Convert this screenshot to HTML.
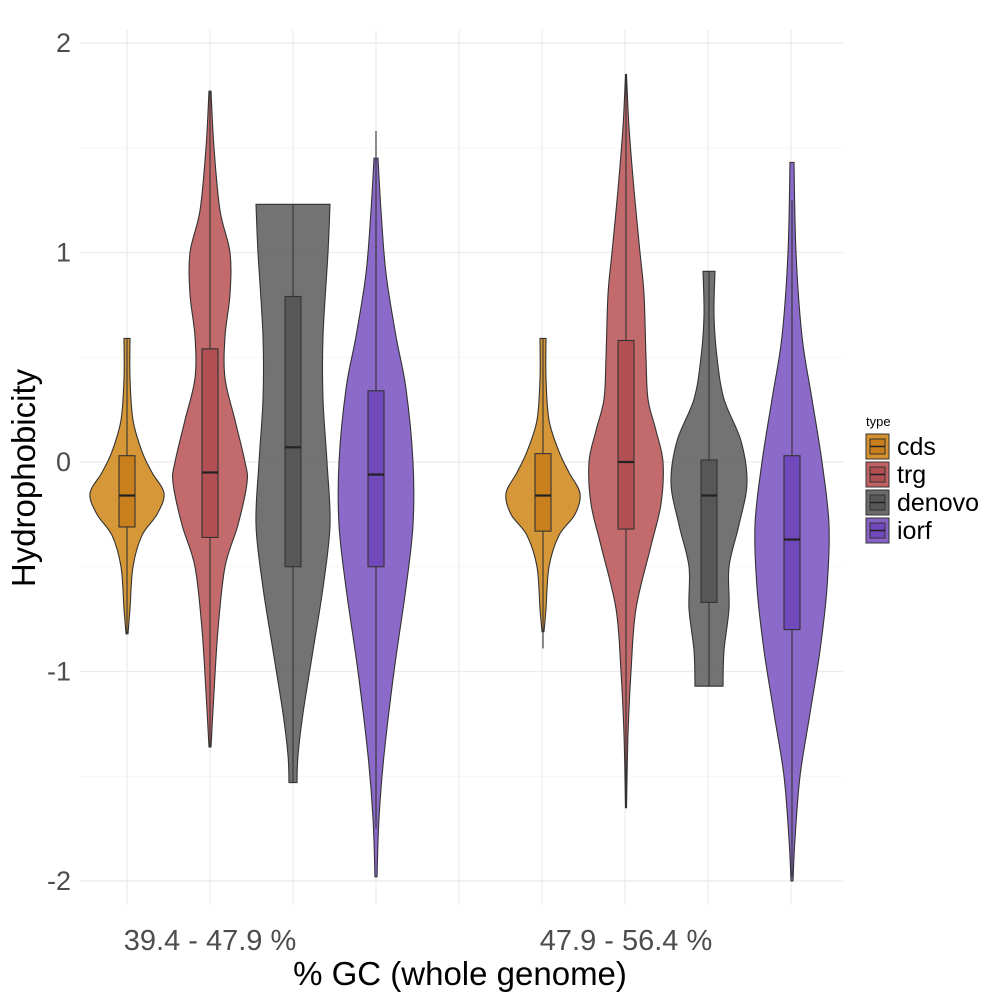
<!DOCTYPE html>
<html><head><meta charset="utf-8"><style>
body{margin:0;background:#fff;}
svg{display:block;font-family:"Liberation Sans",sans-serif;}
</style></head><body>
<svg id="chart" width="1000" height="1000"></svg>
<script>
const groups = ["39.4 - 47.9 %", "47.9 - 56.4 %"];
const types = ["cds", "trg", "denovo", "iorf"];
const colors = ["#d4912e", "#c06264", "#6b6b6b", "#8662c7"];
const boxColors = ["#c97f1c", "#b24f52", "#575757", "#7248bd"];
const yTicks = [2, 1, 0, -1, -2];
// violin profiles: [y value, relative half-width]
const profiles = [
 [[0.59,3],[0.4,3],[0.2,6],[0.05,15],[-0.05,25],[-0.15,37],[-0.25,30],[-0.35,15],[-0.5,6],[-0.7,3],[-0.82,1]],
 [[1.77,1],[1.5,4],[1.2,10],[1.0,20],[0.8,20],[0.6,15],[0.4,15],[0.2,25],[0.0,35],[-0.1,37],[-0.3,28],[-0.5,15],[-0.8,8],[-1.1,4],[-1.36,1]],
 [[1.23,37],[1.0,35],[0.6,30],[0.3,30],[0.0,34],[-0.3,37],[-0.6,30],[-0.9,20],[-1.2,10],[-1.4,5],[-1.53,4]],
 [[1.45,2],[1.2,5],[0.9,10],[0.6,20],[0.35,30],[0.0,37],[-0.3,37],[-0.6,30],[-1.0,18],[-1.4,8],[-1.7,3],[-1.98,1]],
 [[0.59,3],[0.4,3],[0.2,6],[0.05,16],[-0.05,26],[-0.15,37],[-0.25,32],[-0.35,16],[-0.5,6],[-0.7,3],[-0.81,1]],
 [[1.85,0.5],[1.6,3],[1.3,8],[1.0,14],[0.8,18],[0.5,20],[0.3,22],[0.15,30],[0.0,37],[-0.2,35],[-0.4,25],[-0.7,10],[-1.0,5],[-1.3,2],[-1.65,0.5]],
 [[0.91,6],[0.7,5],[0.5,8],[0.3,15],[0.1,32],[-0.1,38],[-0.3,30],[-0.5,20],[-0.7,20],[-0.9,15],[-1.07,14]],
 [[1.43,2],[1.0,4],[0.6,10],[0.3,20],[0.0,30],[-0.3,37],[-0.6,35],[-0.9,28],[-1.2,18],[-1.5,8],[-1.8,3],[-2.0,1]]
];
const q1 = [-0.31,-0.36,-0.5,-0.5,-0.33,-0.32,-0.67,-0.8];
const med = [-0.16,-0.05,0.07,-0.06,-0.16,0.0,-0.16,-0.37];
const q3 = [0.03,0.54,0.79,0.34,0.04,0.58,0.01,0.03];
const whiskLo = [-0.82,-1.36,-1.53,-1.75,-0.89,-1.65,-1.07,-1.98];
const whiskHi = [0.59,1.77,1.23,1.58,0.59,1.85,0.91,1.25];

const NS="http://www.w3.org/2000/svg";
const svg=document.getElementById('chart');
const y=v=>462-v*209.5;
const xPos=(g,t)=>127+g*416+t*83;
function mk(tag,attrs,parent){const e=document.createElementNS(NS,tag);for(const k in attrs)e.setAttribute(k,attrs[k]);(parent||svg).appendChild(e);return e;}

for(let v=-2;v<=2.001;v+=0.5){
 const l=mk('line',{x1:80,x2:843,y1:y(v),y2:y(v),stroke:Number.isInteger(v)?'#ebebeb':'#f3f3f3','stroke-width':Number.isInteger(v)?1.2:0.7});
 
 
}
for(let i=0;i<9;i++){
 const l=mk('line',{x1:127+i*83,x2:127+i*83,y1:30,y2:905,stroke:'#ebebeb','stroke-width':1.2});
 
 
}
yTicks.forEach(v=>{
 const t=mk('text',{x:71,y:y(v)+9,'text-anchor':'end','font-size':27,fill:'#4d4d4d'});
 t.textContent=v;
 
 
});
groups.forEach((g,i)=>{
 const t=mk('text',{x:210+i*416,y:950,'text-anchor':'middle','font-size':29,fill:'#4d4d4d'});
 t.textContent=g;
 
 
});

function smoothSide(pts){
 let d='';
 for(let i=0;i<pts.length-1;i++){
  const p0=pts[Math.max(0,i-1)],p1=pts[i],p2=pts[i+1],p3=pts[Math.min(pts.length-1,i+2)];
  const c1=[p1[0]+(p2[0]-p0[0])/6,p1[1]+(p2[1]-p0[1])/6];
  const c2=[p2[0]-(p3[0]-p1[0])/6,p2[1]-(p3[1]-p1[1])/6];
  d+=` C${c1[0]},${c1[1]} ${c2[0]},${c2[1]} ${p2[0]},${p2[1]}`;
 }
 return d;
}
for(let k=0;k<8;k++){
 const g=Math.floor(k/4),t=k%4,cx=xPos(g,t);
 const pr=profiles[k];
 const right=pr.map(p=>[cx+p[1],y(p[0])]);
 const left=pr.slice().reverse().map(p=>[cx-p[1],y(p[0])]);
 let d=`M${cx-pr[0][1]},${y(pr[0][0])} L${right[0][0]},${right[0][1]}`+smoothSide(right)+` L${left[0][0]},${left[0][1]}`+smoothSide(left)+'Z';
 const p=mk('path',{d,fill:colors[t],'fill-opacity':0.95,stroke:'#333','stroke-width':1.1});
 
 
 const w=mk('line',{x1:cx,x2:cx,y1:y(whiskHi[k]),y2:y(whiskLo[k]),stroke:'#333','stroke-width':1.1});
 
 
 const b=mk('rect',{x:cx-8,y:y(q3[k]),width:16,height:y(q1[k])-y(q3[k]),fill:boxColors[t],stroke:'#333','stroke-width':1.1});
 
 
 const m=mk('line',{x1:cx-8,x2:cx+8,y1:y(med[k]),y2:y(med[k]),stroke:'#222','stroke-width':2.2});
 
 
}
let at=mk('text',{x:460,y:985,'text-anchor':'middle','font-size':33,fill:'#000'});
at.textContent='% GC (whole genome)';


at=mk('text',{x:35,y:478,'text-anchor':'middle','font-size':33,fill:'#000',transform:'rotate(-90 35 478)'});
at.textContent='Hydrophobicity';


at=mk('text',{x:866,y:426,'font-size':13,fill:'#000'});
at.textContent='type';


types.forEach((tp,i)=>{
 const yy=434+i*28;
 const gE=mk('g',{});
 
 
 mk('rect',{x:866,y:yy,width:23,height:25,fill:colors[i],stroke:'#333','stroke-width':1},gE);
 mk('rect',{x:870,y:yy+5,width:15,height:15,fill:boxColors[i],stroke:'#333','stroke-width':1},gE);
 mk('line',{x1:870,x2:885,y1:yy+12.5,y2:yy+12.5,stroke:'#222','stroke-width':1.5},gE);
 const t=mk('text',{x:897,y:yy+21,'font-size':25,fill:'#000'},gE);
 t.textContent=tp;
});
</script>
</body></html>
